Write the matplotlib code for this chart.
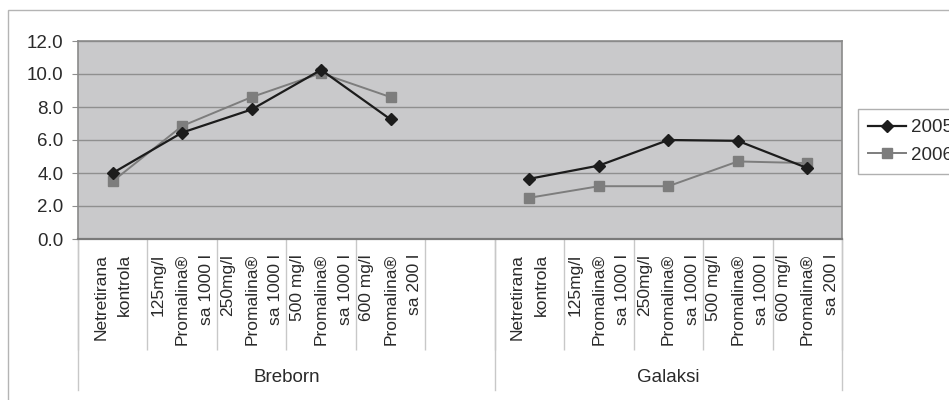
import numpy as np
import matplotlib.pyplot as plt
from matplotlib.patches import Rectangle

plt.rcParams['font.family'] = ['Liberation Sans', 'DejaVu Sans']

# categories (blank slot between the two groups)
cat_labels = ["Netretirana\nkontrola",
              "125mg/l\nPromalina®\nsa 1000 l",
              "250mg/l\nPromalina®\nsa 1000 l",
              "500 mg/l\nPromalina®\nsa 1000 l",
              "600 mg/l\nPromalina®\nsa 200 l",
              "",
              "Netretirana\nkontrola",
              "125mg/l\nPromalina®\nsa 1000 l",
              "250mg/l\nPromalina®\nsa 1000 l",
              "500 mg/l\nPromalina®\nsa 1000 l",
              "600 mg/l\nPromalina®\nsa 200 l"]
groups = ["Breborn", "Galaksi"]
group_sizes = [6, 5]

vals_2005 = [4.0, 6.45, 7.85, 10.25, 7.25, np.nan, 3.65, 4.45, 6.0, 5.95, 4.3]
vals_2006 = [3.5, 6.85, 8.6, 10.05, 8.6, np.nan, 2.5, 3.2, 3.2, 4.7, 4.6]

fs = 13.5
fs_cat = 12.5
grey_txt = '#2a2a2a'

fig = plt.figure(figsize=(9.49, 4.0), dpi=100)
fig.patches.append(Rectangle((8/949, -0.1), 1.0, 1.1 - 10/400, transform=fig.transFigure,
                             fill=False, edgecolor='#b4b4b4', linewidth=1.0))

ax = fig.add_axes([78/949, 1 - 239/400, (842 - 78)/949, (239 - 41)/400])
ax.set_facecolor('#c9c9cb')

x = np.arange(len(cat_labels))
ax.plot(x, vals_2005, color='#1c1c1c', lw=1.6, marker='D', ms=6.5, label='2005', zorder=4)
ax.plot(x, vals_2006, color='#7d7d7d', lw=1.4, marker='s', ms=6.5, label='2006', zorder=3)

ax.set_xlim(-0.5, len(cat_labels) - 0.5)
ax.set_ylim(0, 12)
ax.set_yticks(np.arange(0, 13, 2))
ax.set_yticklabels(['%.1f' % v for v in np.arange(0, 13, 2)], fontsize=fs, color=grey_txt)
ax.grid(axis='y', color='#8f8f8f', lw=1.0)
ax.set_axisbelow(True)
ax.tick_params(axis='y', length=6 * 0.72, color='#8f8f8f', pad=6.0)

for s in ax.spines.values():
    s.set_color('#8a8a8a')
    s.set_linewidth(1.2)
ax.spines['bottom'].set_color('#7a7a7a')
ax.spines['bottom'].set_linewidth(1.6)

# category labels
ax.set_xticks(x)
ax.set_xticklabels(cat_labels, rotation=90, fontsize=fs_cat, color=grey_txt, linespacing=1.75)
for t in ax.get_xticklabels():
    t.set_multialignment('right')
    t.set_verticalalignment('top')
ax.tick_params(axis='x', length=0, pad=15 * 0.72)

# category dividers
ax.set_xticks(np.arange(-0.5, len(cat_labels)), minor=True)
ax.tick_params(axis='x', which='minor', length=111 * 0.72, color='#c8c8c8', width=1.0)

# group dividers and group names
start = 0
edges = [-0.5]
for g, n in zip(groups, group_sizes):
    end = start + n
    edges.append(end - 0.5)
    ax.text((start + end - 1) / 2, -(377 - 239) / 198, g, transform=ax.get_xaxis_transform(),
            ha='center', va='center', fontsize=fs, color=grey_txt)
    start = end
for e in edges:
    ax.plot([e, e], [0, -(390 - 239) / 198], transform=ax.get_xaxis_transform(),
            color='#c8c8c8', lw=1.0, clip_on=False)

leg = ax.legend(loc='upper left', bbox_to_anchor=(858/949, 1 - 109/400),
                bbox_transform=fig.transFigure, borderaxespad=0, fancybox=False,
                edgecolor='#b0b0b0', fontsize=fs, handlelength=2.0, handletextpad=0.3,
                borderpad=0.55, labelspacing=0.55, framealpha=1)
leg.get_frame().set_linewidth(1.0)
for t in leg.get_texts():
    t.set_color(grey_txt)

fig.savefig('out.png', dpi=100)
